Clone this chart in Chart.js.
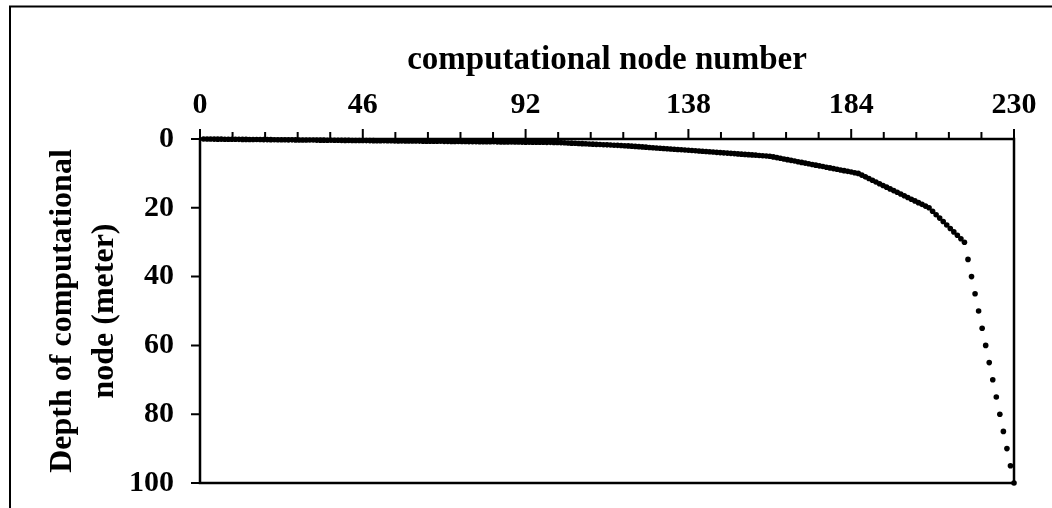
<!DOCTYPE html>
<html>
<head>
<meta charset="utf-8">
<script src="https://cdn.jsdelivr.net/npm/chart.js@4.4.1/dist/chart.umd.min.js"></script>
<style>
html,body{margin:0;padding:0;background:#fff;}
canvas{display:block;}
</style>
</head>
<body>
<canvas id="c" width="1052" height="508"></canvas>
<script>
// Depth (m) of each computational node, nodes 1..230
const depths = [
  0,0.01,0.02,0.03,0.04,0.05,0.06,0.07,0.08,0.09,
  0.1,0.11,0.12,0.13,0.14,0.15,0.16,0.17,0.18,0.19,
  0.2,0.21,0.22,0.23,0.24,0.25,0.26,0.27,0.28,0.29,
  0.3,0.31,0.32,0.33,0.34,0.35,0.36,0.37,0.38,0.39,
  0.4,0.41,0.42,0.43,0.44,0.45,0.46,0.47,0.48,0.49,
  0.5,0.51,0.52,0.53,0.54,0.55,0.56,0.57,0.58,0.59,
  0.6,0.61,0.62,0.63,0.64,0.65,0.66,0.67,0.68,0.69,
  0.7,0.71,0.72,0.73,0.74,0.75,0.76,0.77,0.78,0.79,
  0.8,0.81,0.82,0.83,0.84,0.85,0.86,0.87,0.88,0.89,
  0.9,0.91,0.92,0.93,0.94,0.95,0.96,0.97,0.98,0.99,
  1,
  1.05,1.1,1.15,1.2,1.25,1.3,1.35,1.4,1.45,1.5,
  1.55,1.6,1.65,1.7,1.75,1.8,1.85,1.9,1.95,2,
  2.075,2.15,2.225,2.3,2.375,2.45,2.525,2.6,2.675,2.75,
  2.825,2.9,2.975,3.05,3.125,3.2,3.275,3.35,3.425,3.5,
  3.575,3.65,3.725,3.8,3.875,3.95,4.025,4.1,4.175,4.25,
  4.325,4.4,4.475,4.55,4.625,4.7,4.775,4.85,4.925,5,
  5.2,5.4,5.6,5.8,6,6.2,6.4,6.6,6.8,7,
  7.2,7.4,7.6,7.8,8,8.2,8.4,8.6,8.8,9,
  9.2,9.4,9.6,9.8,10,
  10.5,11,11.5,12,12.5,13,13.5,14,14.5,15,
  15.5,16,16.5,17,17.5,18,18.5,19,19.5,20,
  21,22,23,24,25,26,27,28,29,30,
  35,40,45,50,55,60,65,70,75,80,85,90,95,100
];
const xMajorTicks = [0, 46, 92, 138, 184, 230];
const xMinorTicks = [9.2,18.4,27.6,36.8, 55.2,64.4,73.6,82.8, 101.2,110.4,119.6,128.8,
                     147.2,156.4,165.6,174.8, 193.2,202.4,211.6,220.8];
const yTicks = [0, 20, 40, 60, 80, 100];
const xTitle = 'computational node number';
const yTitle = ['Depth of computational', 'node (meter)'];

const points = depths.map((d, i) => ({x: i + 1, y: d}));

const FONT = 'Liberation Serif, Times New Roman, serif';

const framePlugin = {
  id: 'frame',
  beforeDraw(chart) {
    const ctx = chart.ctx;
    ctx.save();
    ctx.fillStyle = '#fff';
    ctx.fillRect(0, 0, chart.width, chart.height);
    ctx.strokeStyle = '#000';
    ctx.lineWidth = 2;
    ctx.beginPath();
    ctx.moveTo(10, chart.height);
    ctx.lineTo(10, 6.5);
    ctx.lineTo(chart.width, 6.5);
    ctx.stroke();
    ctx.restore();
  },
  beforeDatasetsDraw(chart) {
    const {ctx, chartArea: a, scales: {x, y}} = chart;
    ctx.save();
    ctx.strokeStyle = '#000';
    ctx.lineWidth = 2.5;
    ctx.strokeRect(a.left, a.top, a.right - a.left, a.bottom - a.top);
    ctx.lineWidth = 2;
    ctx.beginPath();
    xMajorTicks.forEach(v => {
      const px = x.getPixelForValue(v);
      ctx.moveTo(px, a.top); ctx.lineTo(px, a.top - 10);
    });
    xMinorTicks.forEach(v => {
      const px = x.getPixelForValue(v);
      ctx.moveTo(px, a.top); ctx.lineTo(px, a.top - 7);
    });
    yTicks.forEach(v => {
      const py = y.getPixelForValue(v);
      ctx.moveTo(a.left, py); ctx.lineTo(a.left - 9, py);
    });
    ctx.stroke();
    ctx.restore();
  }
};

function zeroPad(scale) {
  scale.paddingLeft = 0; scale.paddingRight = 0;
  scale.paddingTop = 0; scale.paddingBottom = 0;
}

new Chart(document.getElementById('c'), {
  type: 'scatter',
  data: {
    datasets: [{
      data: points,
      showLine: false,
      pointRadius: 2.8,
      pointHoverRadius: 2.8,
      pointBackgroundColor: '#000',
      pointBorderColor: '#000',
      pointBorderWidth: 0,
      clip: 4
    }]
  },
  options: {
    responsive: false,
    devicePixelRatio: 1,
    animation: false,
    events: [],
    layout: {padding: {left: 0, top: 0, right: 38, bottom: 25}},
    plugins: {legend: {display: false}, tooltip: {enabled: false}},
    scales: {
      x: {
        type: 'linear',
        position: 'top',
        min: 0, max: 230,
        afterBuildTicks(scale) { scale.ticks = xMajorTicks.map(v => ({value: v})); },
        afterFit(scale) { scale.height = 139; zeroPad(scale); },
        grid: {display: false, drawTicks: false},
        border: {display: false},
        ticks: {
          padding: 16,
          color: '#000',
          maxRotation: 0,
          autoSkip: false,
          font: {family: FONT, size: 30, weight: 'bold'}
        },
        title: {
          display: true,
          text: xTitle,
          color: '#000',
          padding: {top: 39, bottom: 0},
          font: {family: FONT, size: 33, weight: 'bold', lineHeight: 1.3}
        }
      },
      y: {
        type: 'linear',
        reverse: true,
        min: 0, max: 100,
        afterBuildTicks(scale) { scale.ticks = yTicks.map(v => ({value: v})); },
        afterFit(scale) { scale.width = 200; zeroPad(scale); },
        grid: {display: false, drawTicks: false},
        border: {display: false},
        ticks: {
          padding: 26,
          color: '#000',
          autoSkip: false,
          font: {family: FONT, size: 30, weight: 'bold'}
        },
        title: {
          display: true,
          text: yTitle,
          color: '#000',
          padding: {top: 42, bottom: 0},
          font: {family: FONT, size: 32, weight: 'bold', lineHeight: 1.3}
        }
      }
    }
  },
  plugins: [framePlugin]
});
</script>
</body>
</html>
